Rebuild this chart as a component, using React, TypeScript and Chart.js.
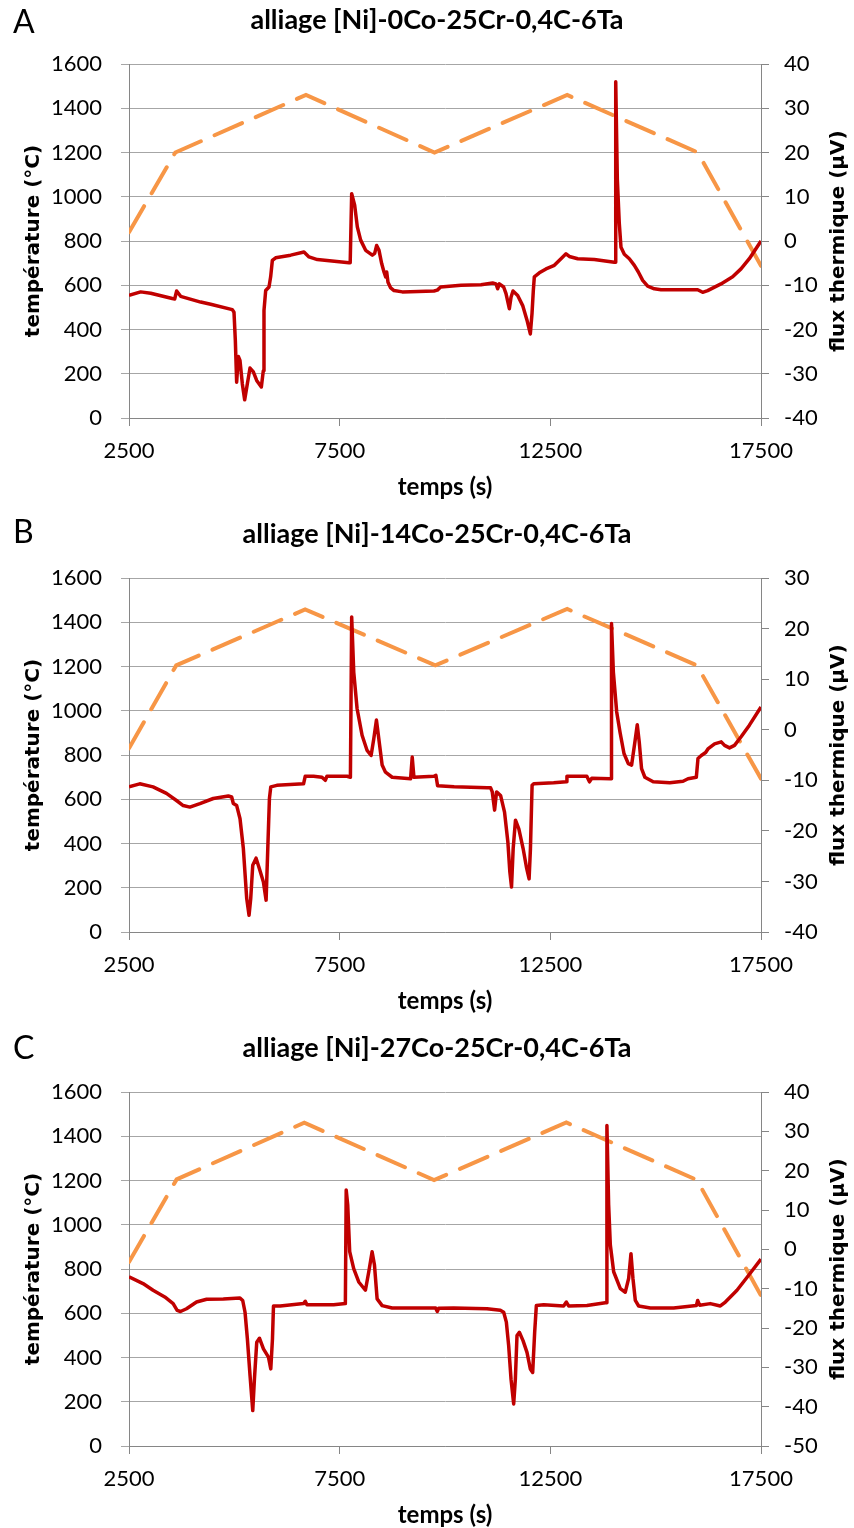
import React, { useEffect, useRef } from "react";
import { Chart, registerables } from "chart.js";

Chart.register(...registerables);

// ---------- shared axis values ----------
const X_MIN = 2500;
const X_MAX = 17500;
const X_STEP = 5000;
const TEMP_MIN = 0;
const TEMP_MAX = 1600;
const TEMP_STEP = 200;
const FLUX_STEP = 10;

// ---------- chart A : [Ni]-0Co-25Cr-0,4C-6Ta ----------
const A_TEMP_T = [2500, 3600, 6700, 9750, 12900, 16000, 17500];
const A_TEMP_C = [840, 1200, 1460, 1200, 1460, 1200, 688];
const A_FLUX_T = [
  2500, 2777, 3014, 3528, 3584, 3631, 3726, 4201, 4438, 4952, 4992, 5024, 5055, 5095, 5134, 5190,
  5245, 5308, 5372, 5451, 5530, 5641, 5688, 5704, 5744, 5823, 5862, 5902, 5981, 6337, 6653, 6772,
  6970, 7721, 7750, 7785, 7856, 7919, 7998, 8117, 8275, 8331, 8378, 8434, 8497, 8552, 8592, 8616,
  8647, 8711, 8790, 8987, 9739, 9818, 9897, 10380, 10855, 11131, 11211, 11250, 11290, 11392, 11448,
  11527, 11567, 11614, 11725, 11844, 11946, 12025, 12065, 12096, 12120, 12239, 12397, 12595, 12753,
  12872, 12951, 13149, 13544, 14019, 14040, 14052, 14090, 14137, 14177, 14256, 14375, 14494, 14589,
  14692, 14810, 14968, 15126, 15601, 15997, 16115, 16234, 16550, 16827, 17025, 17223, 17500,
];
const A_FLUX_UV = [
  -12.3, -11.5, -11.8, -13.0, -13.1, -11.3, -12.5, -13.8, -14.3, -15.5, -16.1, -22.5, -31.9, -26.1, -27.0, -32.3,
  -35.9, -32.3, -28.7, -29.6, -31.5, -33.0, -29.3, -15.7, -11.2, -10.4, -8.1, -4.4, -3.8, -3.2, -2.5, -3.6,
  -4.2, -4.9, -4.9, 10.7, 8.1, 3.2, 0.2, -2.1, -3.2, -2.8, -1.0, -2.1, -5.1, -7.0, -8.1, -7.0,
  -9.3, -10.6, -11.2, -11.5, -11.3, -11.1, -10.4, -10.0, -9.9, -9.5, -9.7, -10.8, -9.7, -10.4, -11.9,
  -15.3, -12.7, -11.3, -12.3, -14.6, -17.9, -21.0, -16.4, -11.2, -8.1, -7.2, -6.3, -5.5, -4.0,
  -2.9, -3.5, -4.0, -4.2, -4.8, -4.8, 36.0, 14.0, 3.9, -1.4, -3.0, -4.0, -5.5, -7.0,
  -8.9, -10.2, -10.8, -11.0, -11.0, -11.0, -11.6, -11.2, -9.7, -8.1, -6.3, -4.0, 0.0,
];
const A_FLUX_MIN = -40;
const A_FLUX_MAX = 40;

// ---------- chart B : [Ni]-14Co-25Cr-0,4C-6Ta ----------
const B_TEMP_T = [2500, 3620, 6680, 9770, 12900, 15980, 17500];
const B_TEMP_C = [830, 1205, 1458, 1205, 1460, 1205, 693];
const B_FLUX_T = [
  2500, 2754, 3071, 3389, 3627, 3786, 3944, 4183, 4500, 4857, 4937, 4976, 5056, 5135, 5214, 5294,
  5349, 5389, 5437, 5516, 5595, 5690, 5754, 5794, 5833, 5865, 6008, 6643, 6683, 6881, 7080, 7159,
  7198, 7675, 7755, 7785, 7834, 7913, 8032, 8151, 8246, 8310, 8373, 8429, 8508, 8588, 8746, 9183,
  9222, 9262, 9738, 9784, 9824, 10217, 11004, 11083, 11122, 11177, 11224, 11319, 11413, 11492, 11539,
  11579, 11618, 11673, 11752, 11854, 11933, 11996, 12028, 12067, 12106, 12579, 12878, 12894, 13366,
  13429, 13484, 13917, 13940, 13952, 13996, 14075, 14154, 14248, 14350, 14429, 14508, 14563, 14610,
  14665, 14744, 14941, 15335, 15650, 15768, 15965, 16004, 16083, 16186, 16241, 16398, 16556, 16635,
  16753, 16871, 17028, 17225, 17500,
];
const B_FLUX_UV = [
  -11.3, -10.7, -11.3, -12.6, -14.0, -15.0, -15.3, -14.6, -13.6, -13.1, -13.3, -14.6, -15.0, -17.6, -23.5, -33.4,
  -36.7, -33.4, -26.8, -25.4, -27.5, -30.1, -33.7, -23.5, -13.6, -11.3, -11.0, -10.7, -9.2, -9.2, -9.4, -10.0,
  -9.2, -9.2, -9.4, 22.3, 11.4, 4.2, -1.1, -4.1, -5.1, -1.8, 1.9, -1.8, -7.0, -8.4, -9.4, -9.7,
  -5.4, -9.4, -9.2, -9.0, -11.1, -11.3, -11.5, -11.5, -12.3, -15.9, -12.3, -13.0, -16.3, -22.2, -28.1,
  -31.1, -23.5, -17.9, -19.6, -23.5, -27.2, -29.5, -23.5, -11.0, -10.7, -10.5, -10.3, -9.2, -9.2,
  -10.3, -9.6, -9.7, -9.7, 21.0, 11.4, 3.5, -0.5, -4.7, -6.7, -7.0, -2.4, 1.0, -2.4,
  -7.7, -9.4, -10.3, -10.5, -10.2, -9.7, -9.4, -5.7, -5.1, -4.5, -3.8, -2.8, -2.4, -3.1,
  -3.6, -3.1, -1.4, 0.9, 4.5,
];
const B_FLUX_MIN = -40;
const B_FLUX_MAX = 30;

// ---------- chart C : [Ni]-27Co-25Cr-0,4C-6Ta ----------
const C_TEMP_T = [2500, 3630, 6660, 9740, 12880, 15980, 17500];
const C_TEMP_C = [832, 1205, 1461, 1202, 1462, 1202, 680];
const C_FLUX_T = [
  2500, 2833, 3071, 3349, 3548, 3643, 3722, 3865, 4103, 4341, 4738, 5135, 5199, 5254, 5310, 5373,
  5437, 5477, 5532, 5596, 5691, 5810, 5865, 5905, 5929, 6088, 6643, 6683, 6723, 7357, 7635, 7655,
  7691, 7738, 7833, 7953, 8111, 8191, 8270, 8326, 8389, 8508, 8746, 9342, 9778, 9817, 9850, 10206,
  10997, 11313, 11393, 11456, 11511, 11567, 11630, 11670, 11709, 11765, 11852, 11946, 12025, 12081,
  12128, 12168, 12342, 12816, 12880, 12935, 13370, 13805, 13830, 13843, 13884, 13924, 14003, 14161,
  14279, 14359, 14414, 14461, 14517, 14596, 14873, 15427, 15965, 15997, 16044, 16297, 16535, 16654,
  16930, 17207, 17500,
];
const C_FLUX_UV = [
  -7.0, -8.7, -10.4, -12.1, -13.8, -15.5, -15.8, -15.1, -13.4, -12.7, -12.6, -12.4, -13.0, -16.0, -22.8, -32.1,
  -41.0, -33.0, -23.6, -22.6, -25.3, -27.4, -30.4, -22.8, -14.4, -14.4, -13.8, -13.2, -14.1, -14.1, -13.8, 15.1,
  11.3, -0.6, -4.9, -8.3, -10.4, -5.7, -0.6, -4.0, -12.6, -14.3, -14.9, -14.9, -14.9, -15.8, -15.0, -14.9,
  -15.1, -15.5, -16.0, -18.5, -24.5, -33.0, -39.3, -33.0, -21.9, -21.1, -23.2, -26.2, -30.4, -31.3,
  -21.1, -14.3, -14.1, -14.4, -13.4, -14.4, -14.3, -13.6, -13.6, 31.5, 11.3, 1.1, -5.7, -10.0,
  -10.9, -7.4, -1.1, -7.4, -13.0, -14.4, -14.9, -14.9, -14.3, -13.0, -14.2, -13.8, -14.4, -13.4,
  -10.4, -6.6, -2.5,
];
const C_FLUX_MIN = -50;
const C_FLUX_MAX = 40;

// ---------- texts ----------
const X_TITLE = "temps (s)";
const Y_LEFT_TITLE = "température (°C)";
const Y_RIGHT_TITLE = "flux thermique (µV)";

type PanelProps = {
  top: number;
  letter: string;
  letterY: number;
  title: string;
  tempT: number[];
  tempC: number[];
  fluxT: number[];
  fluxV: number[];
  fluxMin: number;
  fluxMax: number;
};

const W = 854;
const H = 500;
const TICK_FONT = { family: "Lato", size: 22 };
const AXIS_COLOR = "#868686";
const GRID_COLOR = "#a6a6a6";

function Panel(p: PanelProps) {
  const ref = useRef<HTMLCanvasElement | null>(null);

  useEffect(() => {
    if (!ref.current) return;
    const temp = p.tempT.map((t, i) => ({ x: t, y: p.tempC[i] }));
    const flux = p.fluxT.map((t, i) => ({ x: t, y: p.fluxV[i] }));

    const textPlugin = {
      id: "panelText",
      afterDraw(chart: any) {
        const ctx = chart.ctx as CanvasRenderingContext2D;
        const area = chart.chartArea;
        ctx.save();
        ctx.fillStyle = "#000";
        ctx.textAlign = "left";
        ctx.textBaseline = "alphabetic";
        ctx.font = "32px Lato";
        ctx.fillText(p.letter, 13, p.letterY);
        ctx.font = "bold 27px Lato";
        ctx.textAlign = "center";
        ctx.textBaseline = "middle";
        ctx.fillText(p.title, 437, 20);
        ctx.translate(839, (area.top + area.bottom) / 2);
        ctx.rotate(-Math.PI / 2);
        ctx.font = 'bold 20px "DejaVu Sans"';
        ctx.fillText(Y_RIGHT_TITLE, 0, 0);
        ctx.restore();
      },
    };

    const chart = new Chart(ref.current, {
      type: "line",
      data: {
        datasets: [
          {
            label: "flux",
            data: flux,
            yAxisID: "y1",
            borderColor: "#C00000",
            borderWidth: 3.5,
            pointRadius: 0,
            tension: 0,
            borderJoinStyle: "round",
            order: 0,
          },
          {
            label: "temp",
            data: temp,
            yAxisID: "y",
            borderColor: "#F79646",
            borderWidth: 4,
            borderDash: [30, 15],
            borderCapStyle: "round",
            pointRadius: 0,
            tension: 0,
            order: 1,
          },
        ],
      },
      options: {
        animation: false,
        responsive: false,
        devicePixelRatio: 1,
        events: [],
        layout: { padding: { top: 64, left: 0, right: 0, bottom: 0 } },
        plugins: {
          legend: { display: false },
          tooltip: { enabled: false },
          title: { display: false },
        },
        scales: {
          x: {
            type: "linear",
            min: X_MIN,
            max: X_MAX,
            ticks: {
              stepSize: X_STEP,
              font: TICK_FONT,
              color: "#000",
              padding: 12,
              maxRotation: 0,
              autoSkip: false,
              callback: (v: any) => String(v),
            },
            grid: { drawOnChartArea: false, tickLength: 8, color: AXIS_COLOR },
            border: { color: AXIS_COLOR, width: 1 },
            title: {
              display: true,
              text: X_TITLE,
              color: "#000",
              font: { family: "Lato", weight: "bold", size: 24, lineHeight: 1.1 },
              padding: 0,
            },
            afterFit: (s: any) => {
              s.height = 82;
            },
          },
          y: {
            type: "linear",
            position: "left",
            min: TEMP_MIN,
            max: TEMP_MAX,
            ticks: {
              stepSize: TEMP_STEP,
              font: TICK_FONT,
              color: "#000",
              padding: 19,
              callback: (v: any) => String(v),
            },
            grid: { color: GRID_COLOR, tickLength: 8, lineWidth: 1 },
            border: { color: AXIS_COLOR, width: 1 },
            title: {
              display: true,
              text: Y_LEFT_TITLE,
              color: "#000",
              font: { family: "DejaVu Sans", weight: "bold", size: 20 },
              padding: { top: 22, bottom: 0 },
            },
            afterFit: (s: any) => {
              s.width = 129;
            },
          },
          y1: {
            type: "linear",
            position: "right",
            min: p.fluxMin,
            max: p.fluxMax,
            ticks: {
              stepSize: FLUX_STEP,
              font: TICK_FONT,
              color: "#000",
              padding: 15,
              callback: (v: any) => String(v),
            },
            grid: { drawOnChartArea: false, tickLength: 8, color: AXIS_COLOR },
            border: { color: AXIS_COLOR, width: 1 },
            afterFit: (s: any) => {
              s.width = 93;
            },
          },
        },
      } as any,
      plugins: [textPlugin],
    } as any);
    return () => chart.destroy();
  }, []);

  return (
    <canvas
      ref={ref}
      width={W}
      height={H}
      style={{ position: "absolute", left: 0, top: p.top, width: W, height: H }}
    />
  );
}

export default function App() {
  return (
    <div style={{ position: "absolute", left: 0, top: 0, width: W, height: 1528, background: "#fff" }}>
      <Panel
        top={0}
        letter="A"
        letterY={33}
        title="alliage [Ni]-0Co-25Cr-0,4C-6Ta"
        tempT={A_TEMP_T}
        tempC={A_TEMP_C}
        fluxT={A_FLUX_T}
        fluxV={A_FLUX_UV}
        fluxMin={A_FLUX_MIN}
        fluxMax={A_FLUX_MAX}
      />
      <Panel
        top={514}
        letter="B"
        letterY={29}
        title="alliage [Ni]-14Co-25Cr-0,4C-6Ta"
        tempT={B_TEMP_T}
        tempC={B_TEMP_C}
        fluxT={B_FLUX_T}
        fluxV={B_FLUX_UV}
        fluxMin={B_FLUX_MIN}
        fluxMax={B_FLUX_MAX}
      />
      <Panel
        top={1028}
        letter="C"
        letterY={31}
        title="alliage [Ni]-27Co-25Cr-0,4C-6Ta"
        tempT={C_TEMP_T}
        tempC={C_TEMP_C}
        fluxT={C_FLUX_T}
        fluxV={C_FLUX_UV}
        fluxMin={C_FLUX_MIN}
        fluxMax={C_FLUX_MAX}
      />
    </div>
  );
}
